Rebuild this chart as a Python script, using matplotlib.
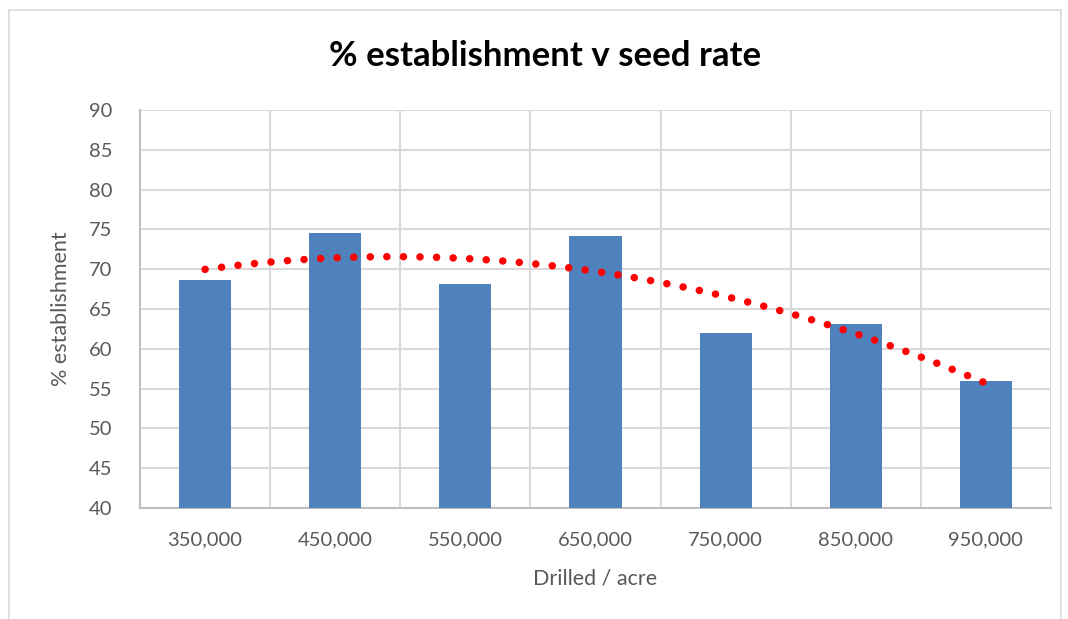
import numpy as np
import matplotlib.pyplot as plt
from matplotlib.patches import Rectangle

# Seed rate trial data
categories = ["350,000", "450,000", "550,000", "650,000", "750,000", "850,000", "950,000"]
establishment = [68.6, 74.5, 68.2, 74.2, 62.0, 63.1, 56.0]
y_ticks = [40, 45, 50, 55, 60, 65, 70, 75, 80, 85, 90]

plt.rcParams['font.family'] = ['Lato', 'DejaVu Sans']

W, H = 1068, 619
fig = plt.figure(figsize=(W / 100, H / 100), dpi=100)

# chart-area border
fig.patches.append(Rectangle((9 / W, -0.02), (1061 - 9) / W, (H - 10) / H + 0.02,
                             transform=fig.transFigure, fill=False,
                             edgecolor='#d9d9d9', linewidth=1.2))

ax = fig.add_axes([140 / W, 1 - 508 / H, (1051 - 140) / W, (508 - 110) / H])

x = np.arange(1, len(categories) + 1)
ax.bar(x, establishment, width=0.4, color='#4f81bd', zorder=3)

# second-order polynomial trendline, drawn as round dots
coef = np.polyfit(x, establishment, 2)
xs = np.linspace(x[0], x[-1], 400)
ax.plot(xs, np.polyval(coef, xs), color='#ff0000', linewidth=5.4,
        linestyle=(0, (0.01, 2.2)), dash_capstyle='round', zorder=4)

ax.set_xlim(0.5, len(categories) + 0.5)
ax.set_ylim(40, 90)
ax.set_yticks(y_ticks)
ax.set_xticks(x)
ax.set_xticklabels(categories)
ax.set_xticks(np.arange(0.5, len(categories) + 1), minor=True)

ax.grid(axis='y', which='major', color='#d9d9d9', linewidth=1.5, zorder=0)
ax.grid(axis='x', which='minor', color='#d9d9d9', linewidth=1.5, zorder=0)
ax.tick_params(which='both', length=0)
ax.tick_params(axis='y', labelsize=14.5, labelcolor='#595959', pad=20)
ax.tick_params(axis='x', labelsize=14.5, labelcolor='#595959', pad=17)

for side in ['top', 'right']:
    ax.spines[side].set_visible(False)
for side in ['left', 'bottom']:
    ax.spines[side].set_color('#bfbfbf')
    ax.spines[side].set_linewidth(1.5)

ax.set_ylabel('% establishment', fontsize=15.5, color='#595959', labelpad=13)
ax.set_xlabel('Drilled / acre', fontsize=15.5, color='#595959', labelpad=14)

fig.text(545 / W, 1 - 56 / H, '% establishment v seed rate', ha='center', va='center',
         fontsize=25, fontweight='bold', color='black')

fig.savefig('out.png', dpi=100)
